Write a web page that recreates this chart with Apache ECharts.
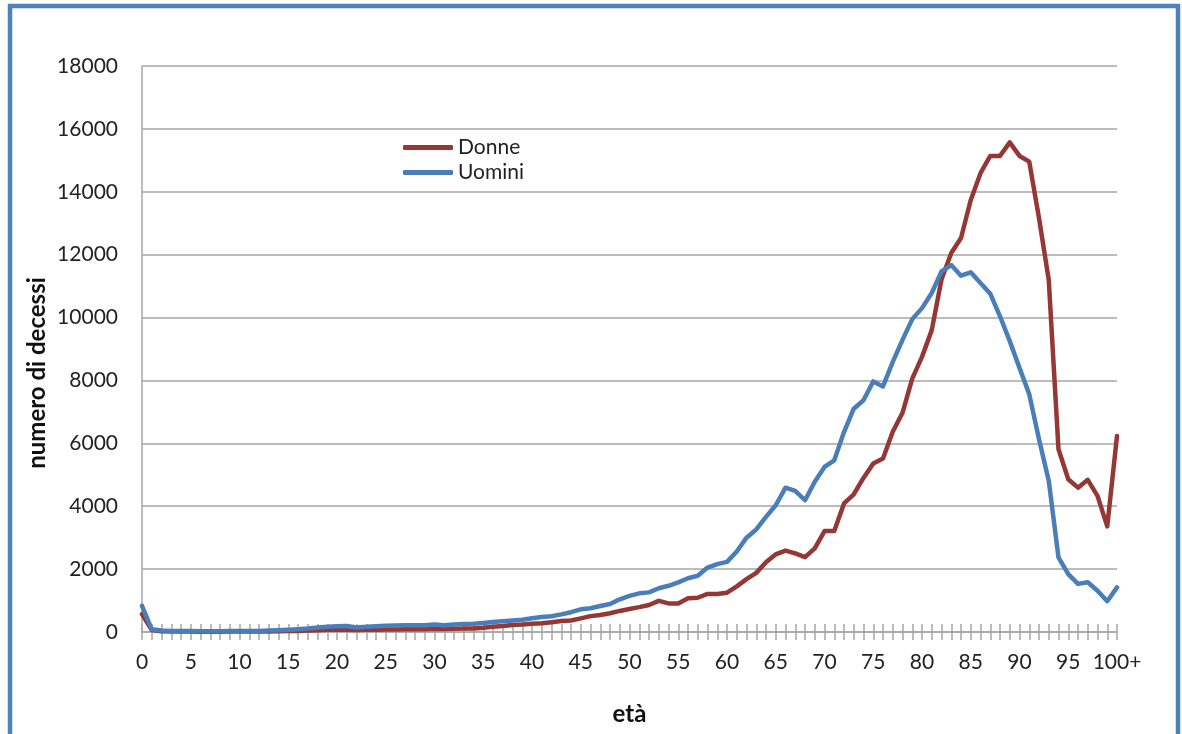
<!DOCTYPE html>
<html>
<head>
<meta charset="utf-8">
<script src="https://cdn.jsdelivr.net/npm/echarts@6/dist/echarts.min.js"></script>
<style>
  html, body { margin: 0; padding: 0; background: #fff; overflow: hidden; }
  #main { width: 1182px; height: 734px; }
</style>
</head>
<body>
<div id="main"></div>
<script>
// età 0..99 e 100+
const eta = [];
for (let i = 0; i < 100; i++) eta.push(String(i));
eta.push("100+");

const donne = [
  570, 65, 20, 15, 12, 12, 10, 10, 10, 12,
  12, 12, 15, 18, 22, 28, 32, 45, 55, 70,
  75, 70, 65, 70, 75, 80, 80, 85, 85, 90,
  100, 95, 100, 110, 115, 135, 170, 190, 220, 235,
  260, 280, 310, 350, 365, 435, 505, 540, 595, 670,
  730, 790, 860, 990, 910, 910, 1070, 1090, 1210, 1210,
  1250, 1450, 1680, 1880, 2220, 2470, 2590, 2500, 2380, 2660,
  3210, 3210, 4090, 4380, 4900, 5360, 5520, 6370, 6970, 8060,
  8750, 9600, 11210, 12050, 12530, 13740, 14590, 15140, 15140, 15570,
  15140, 14960, 13160, 11200, 5810, 4860, 4590, 4840, 4330, 3360,
  6230
];

const uomini = [
  830, 85, 45, 35, 30, 30, 25, 25, 25, 30,
  30, 30, 35, 45, 55, 70, 90, 110, 145, 170,
  185, 190, 145, 165, 180, 200, 210, 215, 215, 215,
  235, 215, 240, 255, 265, 285, 320, 345, 365, 390,
  440, 480, 500, 560, 630, 720, 755, 825, 890, 1040,
  1150, 1230, 1260, 1390, 1470, 1580, 1710, 1790, 2050, 2160,
  2230, 2560, 3000, 3260, 3660, 4030, 4590, 4490, 4190, 4780,
  5250, 5460, 6360, 7100, 7370, 7970, 7810, 8590, 9290, 9950,
  10300, 10780, 11470, 11670, 11330, 11440, 11100, 10760, 10040, 9250,
  8400, 7560, 6130, 4810, 2370, 1840, 1530, 1580, 1310, 980,
  1420
];

const yMax = 18000;
const yStep = 2000;

const font = "Lato, 'Liberation Sans', sans-serif";
const grigio = "#a6a6a6";

let chart = echarts.init(document.getElementById("main"));
chart.setOption({
  animation: false,
  backgroundColor: "#fff",
  textStyle: { fontFamily: font },
  graphic: [{
    type: "rect",
    shape: { x: 10, y: 6, width: 1168, height: 780 },
    style: { fill: null, stroke: "#4f81bd", lineWidth: 4.5 },
    silent: true
  }, {
    // titolo asse y, un po' sotto il centro come nell'originale
    type: "text",
    x: 37,
    y: 373,
    rotation: Math.PI / 2,
    style: {
      text: "numero di decessi",
      font: "bold 24px " + font,
      fill: "#111",
      align: "center",
      verticalAlign: "middle"
    },
    silent: true
  }],
  legend: {
    orient: "vertical",
    left: 403,
    top: 137,
    padding: 0,
    itemWidth: 50,
    itemHeight: 5,
    itemGap: 4,
    icon: "roundRect",
    textStyle: { fontFamily: font, fontSize: 21, color: "#222", padding: [0, 0, 0, 0] },
    data: ["Donne", "Uomini"]
  },
  grid: { left: 142, right: 65, top: 66, bottom: 102 },
  xAxis: [{
    type: "category",
    boundaryGap: false,
    data: eta,
    name: "età",
    nameLocation: "middle",
    nameGap: 70,
    nameTextStyle: { fontFamily: font, fontSize: 24, fontWeight: "bold", color: "#111" },
    axisLine: { lineStyle: { color: grigio, width: 1.5 } },
    axisTick: { interval: 0, length: 8, lineStyle: { color: grigio, width: 1.5 } },
    axisLabel: { interval: 4, margin: 20, fontSize: 21, color: "#222", fontFamily: font },
    splitLine: { show: false }
  }, {
    type: "category",
    position: "bottom",
    boundaryGap: false,
    data: eta,
    axisLine: { show: false },
    axisTick: { interval: 0, inside: true, length: 8, lineStyle: { color: grigio, width: 1.5 } },
    axisLabel: { show: false },
    splitLine: { show: false }
  }],
  yAxis: {
    type: "value",
    min: 0,
    max: yMax,
    interval: yStep,
    axisLine: { show: true, lineStyle: { color: grigio, width: 1.5 } },
    axisTick: { show: false },
    axisLabel: {
      margin: 24,
      fontSize: 21,
      color: "#222",
      fontFamily: font,
      formatter: function (v) { return String(v); }
    },
    splitLine: { lineStyle: { color: grigio, width: 1.5 } }
  },
  series: [{
    name: "Donne",
    type: "line",
    data: donne,
    symbol: "none",
    color: "#953735",
    lineStyle: { width: 4.5, cap: "round", join: "round" }
  }, {
    name: "Uomini",
    type: "line",
    data: uomini,
    symbol: "none",
    color: "#4a7ebb",
    lineStyle: { width: 4.5, cap: "round", join: "round" }
  }]
});
</script>
</body>
</html>
